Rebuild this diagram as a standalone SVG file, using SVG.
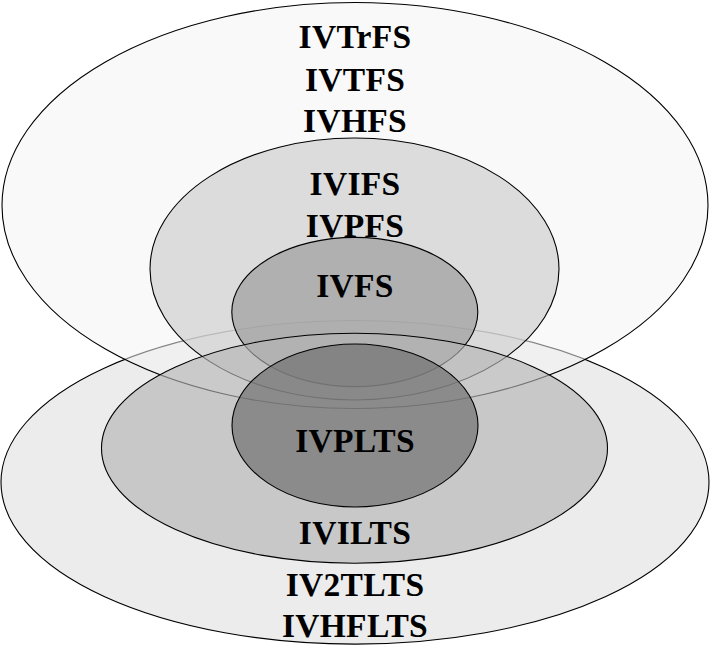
<svg xmlns="http://www.w3.org/2000/svg" width="711" height="649" viewBox="0 0 711 649">
<style>
.e{stroke:#000;stroke-width:1.1}
.t{font-family:"Liberation Serif","Times New Roman",serif;font-weight:bold;font-size:33.5px;letter-spacing:0.3px;text-anchor:middle;fill:#000}
</style>
<rect width="711" height="649" fill="#fff"/>
<g id="IVHFLTS-set">
<ellipse class="e" cx="355" cy="482.3" rx="354" ry="161.8" fill="#ececec"/>
<text class="t" x="355" y="596">IV2TLTS</text>
<text class="t" x="355" y="637">IVHFLTS</text>
</g>
<g id="IVTrFS-set">
<ellipse class="e" cx="355" cy="205.5" rx="353" ry="203" fill="#f4f4f4" fill-opacity="0.55"/>
<text class="t" x="355" y="48">IVTrFS</text>
<text class="t" x="355" y="90.5">IVTFS</text>
<text class="t" x="355" y="131.5">IVHFS</text>
</g>
<g id="IVIFS-set">
<ellipse class="e" cx="354.5" cy="269" rx="204.5" ry="131" fill="#d0d0d0" fill-opacity="0.7"/>
<text class="t" x="355" y="195">IVIFS</text>
<text class="t" x="355" y="236.5">IVPFS</text>
</g>
<g id="IVFS-set">
<ellipse class="e" cx="354.8" cy="312" rx="123" ry="74.6" fill="#999999" fill-opacity="0.66"/>
<text class="t" x="355" y="297">IVFS</text>
</g>
<g id="IVILTS-set">
<ellipse class="e" cx="354.5" cy="448.2" rx="253" ry="115" fill="#b4b4b4" fill-opacity="0.64"/>
<text class="t" x="355" y="544">IVILTS</text>
</g>
<g id="IVPLTS-set">
<ellipse class="e" cx="355" cy="425.5" rx="123" ry="81.5" fill="#707070" fill-opacity="0.7"/>
<text class="t" x="355" y="452">IVPLTS</text>
</g>
</svg>
